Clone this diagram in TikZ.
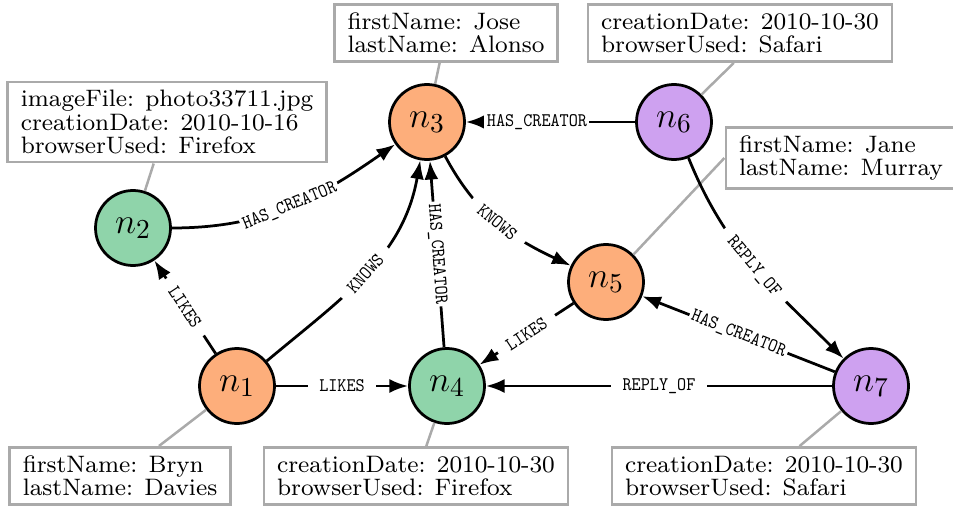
\documentclass[tikz,border=0pt]{standalone}
\usepackage{fontspec}
\usetikzlibrary{arrows.meta,calc}
\newfontfamily\labfont{lmmono10-regular.otf}[FakeStretch=0.9]
\definecolor{norange}{RGB}{253,174,123}
\definecolor{ngreen}{RGB}{143,212,170}
\definecolor{npurple}{RGB}{206,161,240}
\definecolor{propgray}{RGB}{170,170,170}
\begin{document}
\begin{tikzpicture}[x=0.4pt,y=0.4pt,
  gnode/.style={circle,draw,line width=1.1pt,minimum size=30pt,inner sep=0pt,font=\fontsize{15}{18}\selectfont},
  prop/.style={draw=propgray,line width=1.1pt,fill=white,align=left,scale=1.19,transform shape,inner xsep=4.4pt,inner ysep=2.8pt,font=\fontsize{8}{7.75}\selectfont},
  pline/.style={draw=propgray,line width=1pt},
  rel/.style={line width=1.1pt,-{Latex[length=7.5pt,width=5.6pt]}},
  lab/.style={fill=white,inner ysep=1pt,inner xsep=4.5pt,font=\labfont\fontsize{7.7}{9}\selectfont,sloped},
  hc/.style={inner xsep=1pt},
]
\useasboundingbox (0,0) rectangle (953,-506);
% graph nodes
\node[gnode,fill=norange] (n1) at (237,-386) {$n_1$};
\node[gnode,fill=ngreen]  (n2) at (133,-228) {$n_2$};
\node[gnode,fill=norange] (n3) at (427,-122) {$n_3$};
\node[gnode,fill=ngreen]  (n4) at (447,-386) {$n_4$};
\node[gnode,fill=norange] (n5) at (606,-282) {$n_5$};
\node[gnode,fill=npurple] (n6) at (674,-122) {$n_6$};
\node[gnode,fill=npurple] (n7) at (871,-386) {$n_7$};
% property boxes
\node[prop] (b2) at (167,-122) {imageFile: photo33711.jpg\\creationDate: 2010-10-16\\browserUsed: Firefox};
\node[prop] (b3) at (446,-33) {firstName: Jose\\lastName: Alonso};
\node[prop] (b6) at (740,-33) {creationDate: 2010-10-30\\browserUsed: Safari};
\node[prop] (b5) at (841,-158) {firstName: Jane\\lastName: Murray};
\node[prop] (b1) at (120,-476) {firstName: Bryn\\lastName: Davies};
\node[prop] (b4) at (416,-476) {creationDate: 2010-10-30\\browserUsed: Firefox};
\node[prop] (b7) at (764,-476) {creationDate: 2010-10-30\\browserUsed: Safari};
% property connectors
\draw[pline] (n2) -- (b2);
\draw[pline] (n3) -- (b3);
\draw[pline] (n6.45) -- ($(b6.south west)!0.48!(b6.south east)$);
\draw[pline] (n5.45) -- (b5.west);
\draw[pline] (n1) -- (b1);
\draw[pline] (n4) -- (b4);
\draw[pline] (n7) -- (b7);
% relationships
\draw[rel] (n1) -- node[lab]{LIKES} (n2);
\draw[rel] (n2.east) to[out=0,in=215] node[lab,hc]{HAS\_CREATOR} (n3);
\draw[rel] (n1) to[out=40,in=260] node[lab]{KNOWS} (n3);
\draw[rel] (n4) -- node[lab,hc]{HAS\_CREATOR} (n3);
\draw[rel] (n3) to[out=-62,in=155] node[lab]{KNOWS} (n5);
\draw[rel] (n5) -- node[lab]{LIKES} (n4);
\draw[rel] (n1) -- node[lab]{LIKES} (n4);
\draw[rel] (n6) -- node[lab,hc,pos=0.58]{HAS\_CREATOR} (n3);
\draw[rel] (n6) to[out=-68,in=135] node[lab]{REPLY\_OF} (n7);
\draw[rel] (n7) -- node[lab,hc]{HAS\_CREATOR} (n5);
\draw[rel] (n7) -- node[lab]{REPLY\_OF} (n4);
\end{tikzpicture}
\end{document}
